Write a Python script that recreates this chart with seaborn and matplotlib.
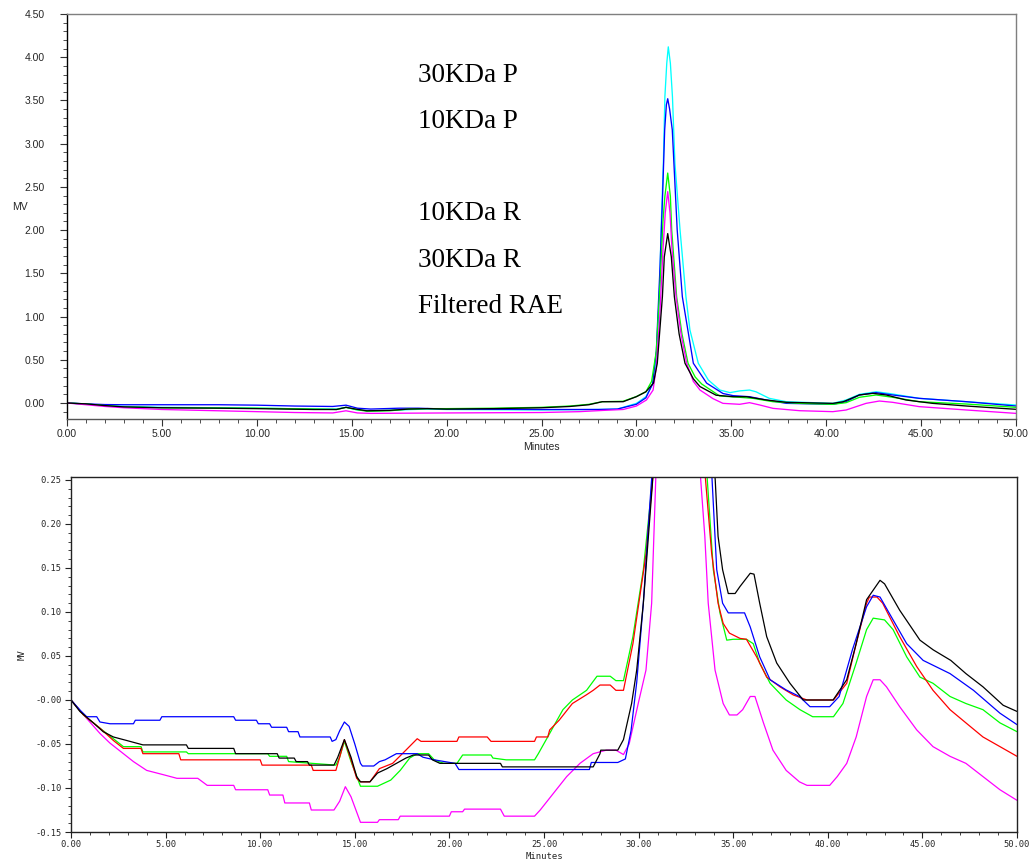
import numpy as np
import pandas as pd
import matplotlib
matplotlib.use("Agg")
import matplotlib.pyplot as plt
import seaborn as sns
from matplotlib.ticker import MultipleLocator, FixedLocator, FixedFormatter

sns.set_style("ticks")
plt.rcParams['font.family'] = ['Liberation Sans', 'DejaVu Sans']

# ---------------- TOP PANEL DATA (full scale) ----------------
top_samples = ["30KDa P", "10KDa P", "10KDa R", "30KDa R", "Filtered RAE"]
top_colors = ["#00FFFF", "#0000FF", "#00FF00", "#FF00FF", "#000000"]

cyan_t = [0, 1, 2, 3, 5, 8, 10, 13, 14.2, 14.7, 15.3, 16, 17.5, 19, 20, 25, 28, 29, 30, 30.5,
          30.88, 31.03, 31.21, 31.3, 31.42, 31.5, 31.6, 31.68, 31.79, 31.9, 32.03, 32.3, 32.61,
          32.82, 33.26, 33.79, 34.4, 34.93, 35.44, 35.96, 36.3, 37.0, 37.9, 40.35, 41.05, 41.75,
          42.63, 43.33, 44.9, 47.4, 50]
cyan_v = [0.0, -0.012, -0.03, -0.04, -0.05, -0.055, -0.06, -0.07, -0.07, -0.05, -0.08, -0.09, -0.08,
          -0.07, -0.075, -0.08, -0.075, -0.07, -0.004, 0.073, 0.23, 0.46, 1.23, 2.0, 2.77, 3.54,
          3.93, 4.12, 3.93, 3.54, 2.77, 2.0, 1.23, 0.845, 0.46, 0.266, 0.15, 0.12, 0.14, 0.15,
          0.13, 0.054, 0.015, -0.004, 0.035, 0.10, 0.13, 0.11, 0.054, 0.015, -0.023]

blue_t = [0, 1, 2, 3, 5, 8, 10, 12, 14, 14.7, 15.3, 16, 17.5, 18.5, 20, 25, 28, 29, 30, 30.5,
          30.85, 31.05, 31.25, 31.38, 31.49, 31.58, 31.65, 31.75, 31.89, 32.15, 32.42, 33.0,
          33.7, 34.56, 35.1, 35.96, 36.84, 37.9, 40.35, 41.05, 41.75, 42.63, 43.5, 44.9, 47.4, 50]
blue_v = [0.0, -0.01, -0.018, -0.02, -0.02, -0.02, -0.025, -0.035, -0.04, -0.025, -0.06, -0.07,
          -0.06, -0.06, -0.07, -0.075, -0.075, -0.07, -0.015, 0.06, 0.22, 0.6, 1.6, 2.4, 3.16,
          3.45, 3.52, 3.4, 3.16, 2.0, 1.23, 0.46, 0.23, 0.11, 0.085, 0.073, 0.035, -0.004, -0.015,
          0.015, 0.093, 0.12, 0.093, 0.054, 0.015, -0.035]

green_t = [0, 1, 2, 3, 5, 8, 10, 13, 14.2, 14.7, 15.2, 15.8, 17, 18, 19, 20, 22.5, 25, 26.5, 27.5,
           28.2, 29.3, 30.0, 30.5, 30.8, 31.05, 31.25, 31.4, 31.5, 31.65, 31.79, 31.86, 32.12,
           32.4, 32.72, 33.1, 33.44, 34.39, 35.44, 36.14, 37.2, 38.6, 40.35, 41.05, 41.75, 42.63,
           43.5, 44.9, 47.4, 50]
green_v = [0.0, -0.012, -0.03, -0.045, -0.055, -0.058, -0.06, -0.07, -0.075, -0.05, -0.075, -0.095,
           -0.09, -0.07, -0.065, -0.065, -0.06, -0.05, -0.035, -0.015, 0.015, 0.02, 0.075, 0.13,
           0.25, 0.6, 1.4, 2.1, 2.39, 2.66, 2.39, 2.0, 1.23, 0.8, 0.46, 0.3, 0.22, 0.081, 0.066,
           0.054, 0.015, -0.004, -0.015, 0.004, 0.066, 0.093, 0.066, 0.015, -0.012, -0.05]

magenta_t = [0, 1, 2, 3, 5, 8, 10, 12, 14, 14.7, 15.3, 16, 20, 25, 27, 28.3, 29.3, 30.0, 30.53,
             30.88, 31.05, 31.23, 31.4, 31.52, 31.65, 31.77, 31.87, 32.09, 32.35, 32.65, 33.0,
             33.35, 34.04, 34.56, 35.44, 35.96, 36.5, 37.2, 38.6, 40.35, 41.05, 42.1, 42.8, 43.5,
             44.9, 47.4, 50]
magenta_v = [0.0, -0.02, -0.04, -0.055, -0.075, -0.09, -0.1, -0.11, -0.115, -0.09, -0.115, -0.12,
             -0.115, -0.11, -0.1, -0.085, -0.075, -0.035, 0.035, 0.15, 0.42, 1.0, 1.77, 2.2,
             2.445, 2.2, 1.8, 1.23, 0.8, 0.46, 0.25, 0.15, 0.05, -0.004, -0.015, 0.004, -0.023,
             -0.062, -0.089, -0.1, -0.081, -0.004, 0.023, 0.008, -0.042, -0.081, -0.12]

black_t = [0, 1, 2, 3, 5, 8, 10, 13, 14.2, 14.7, 15.2, 15.8, 17, 18, 19, 20, 22.5, 25, 26.5, 27.5,
           28.2, 29.3, 30.0, 30.5, 30.9, 31.1, 31.37, 31.47, 31.65, 31.84, 32.0, 32.25,
           32.56, 33.0, 33.35, 34.2, 35.1, 35.8, 36.84, 37.9, 40.35, 40.9, 41.75, 42.46, 43.16,
           44.2, 45.6, 47.4, 50]
black_v = [0.0, -0.01, -0.03, -0.045, -0.055, -0.06, -0.065, -0.075, -0.075, -0.05, -0.07, -0.09,
           -0.085, -0.07, -0.065, -0.07, -0.065, -0.055, -0.04, -0.02, 0.015, 0.015, 0.073, 0.13,
           0.23, 0.46, 1.23, 1.69, 1.96, 1.69, 1.23, 0.8, 0.46, 0.28, 0.19, 0.09, 0.073,
           0.073, 0.035, 0.008, -0.004, 0.015, 0.093, 0.112, 0.093, 0.035, -0.004, -0.035, -0.073]

# ---------------- BOTTOM PANEL DATA (zoomed baseline) ----------------
bot_samples = ["magenta", "green", "red", "blue", "black"]
bot_colors = ["#FF00FF", "#00FF00", "#FF0000", "#0000FF", "#000000"]

b_black_t = [0, 0.47, 1.18, 1.7, 2.24, 2.94, 3.8, 6.1, 6.2, 8.6, 8.7, 10.9, 11.0, 11.8, 11.9, 12.5,
             12.6, 13.9, 14.1, 14.45, 14.8, 15.1, 15.3, 15.8, 16.2, 16.7, 17.2, 17.7, 18.1, 18.9,
             19.1, 19.5, 22.7, 22.8, 27.6, 27.96, 28.0, 28.9, 29.2, 29.63, 29.9, 30.25, 30.78,
             31.2, 31.7, 32.4, 33.2, 33.7, 34.05, 34.2, 34.44, 34.74, 35.1, 35.36, 35.9, 36.1,
             36.4, 36.77, 37.3, 38.0, 38.7, 40.28, 41.0, 41.5, 42.05, 42.76, 43.0, 43.8, 44.87,
             45.57, 46.5, 47.3, 48.2, 49.27, 50]
b_black_v = [0.0, -0.013, -0.026, -0.036, -0.042, -0.046, -0.051, -0.051, -0.055, -0.055, -0.061,
             -0.061, -0.066, -0.066, -0.070, -0.070, -0.074, -0.074, -0.065, -0.045, -0.065,
             -0.087, -0.093, -0.093, -0.083, -0.078, -0.072, -0.066, -0.0625, -0.0625, -0.068,
             -0.072, -0.072, -0.076, -0.076, -0.061, -0.057, -0.057, -0.045, -0.004, 0.034, 0.11,
             0.26, 1.0, 1.96, 1.0, 0.45, 0.35, 0.25, 0.186, 0.148, 0.121, 0.121, 0.129, 0.144,
             0.143, 0.110, 0.072, 0.042, 0.019, 0.0, 0.0, 0.023, 0.064, 0.114, 0.136, 0.132,
             0.102, 0.068, 0.057, 0.045, 0.030, 0.015, -0.006, -0.013]

b_blue_t = [0, 0.5, 0.83, 1.36, 1.53, 2.06, 3.3, 3.4, 4.7, 4.8, 8.6, 8.7, 9.8, 9.9, 10.5, 10.6,
            11.4, 11.5, 12.0, 12.1, 13.7, 13.8, 14.0, 14.2, 14.45, 14.7, 15.0, 15.3, 15.4, 16.0,
            16.3, 16.6, 17.2, 18.3, 18.6, 19.2, 20.3, 20.5, 27.4, 27.5, 28.9, 29.3, 29.6, 29.9,
            30.25, 30.6, 30.75, 31.2, 31.7, 32.3, 33.0, 33.5, 33.86, 34.13, 34.44, 34.74, 35.6,
            35.9, 36.4, 36.95, 37.8, 38.5, 39.06, 40.1, 40.6, 41.3, 42.05, 42.4, 42.76, 43.45,
            44.17, 45.04, 46.46, 47.7, 49.1, 50]
b_blue_v = [0.0, -0.012, -0.019, -0.019, -0.025, -0.027, -0.027, -0.023, -0.023, -0.019, -0.019,
            -0.023, -0.023, -0.027, -0.027, -0.031, -0.031, -0.036, -0.036, -0.042, -0.042,
            -0.047, -0.045, -0.035, -0.025, -0.030, -0.050, -0.072, -0.075, -0.075, -0.070,
            -0.068, -0.061, -0.061, -0.065, -0.068, -0.072, -0.079, -0.079, -0.071, -0.071,
            -0.067, -0.035, 0.02, 0.110, 0.224, 0.27, 1.2, 3.52, 1.8, 0.6, 0.35, 0.26, 0.148,
            0.11, 0.099, 0.099, 0.083, 0.049, 0.023, 0.0114, 0.004, -0.0076, -0.0076, 0.004,
            0.057, 0.106, 0.119, 0.117, 0.091, 0.064, 0.045, 0.030, 0.011, -0.015, -0.028]

b_red_t = [0, 0.66, 1.53, 2.24, 2.77, 3.7, 3.8, 5.7, 5.8, 10.0, 10.1, 12.7, 12.8, 14.0, 14.2,
           14.45, 14.8, 15.1, 15.3, 15.8, 16.3, 17.0, 17.7, 18.3, 18.5, 20.4, 20.5, 22.0, 22.2,
           24.5, 24.6, 25.2, 25.3, 25.8, 26.5, 27.25, 27.6, 27.96, 28.5, 28.8, 29.2, 29.7, 30.4,
           30.75, 31.2, 31.7, 32.4, 33.0, 33.5, 33.86, 34.2, 34.47, 34.8, 35.36, 35.7, 36.24,
           36.77, 37.47, 38.18, 38.9, 40.3, 41.0, 41.5, 42.05, 42.2, 42.6, 42.9, 43.8, 44.7,
           45.56, 46.46, 47.3, 48.2, 49.1, 50]
b_red_v = [0.0, -0.017, -0.032, -0.046, -0.055, -0.055, -0.061, -0.061, -0.068, -0.068, -0.074,
           -0.074, -0.080, -0.080, -0.065, -0.045, -0.068, -0.089, -0.093, -0.093, -0.078,
           -0.072, -0.057, -0.044, -0.047, -0.047, -0.042, -0.042, -0.047, -0.047, -0.042,
           -0.042, -0.034, -0.023, -0.004, 0.006, 0.011, 0.017, 0.017, 0.011, 0.011, 0.064,
           0.167, 0.254, 1.0, 2.4, 1.0, 0.45, 0.26, 0.167, 0.110, 0.087, 0.076, 0.070, 0.069,
           0.049, 0.026, 0.015, 0.0057, 0.0, 0.0, 0.019, 0.064, 0.110, 0.117, 0.117, 0.110,
           0.072, 0.038, 0.011, -0.011, -0.026, -0.042, -0.053, -0.064]

b_green_t = [0, 0.66, 1.53, 2.24, 2.77, 3.7, 3.8, 6.1, 6.2, 10.4, 10.5, 11.4, 11.5, 14.0, 14.2,
             14.45, 14.8, 15.3, 16.2, 16.9, 17.4, 17.9, 18.3, 18.9, 19.2, 19.7, 20.4, 20.7, 22.2,
             22.3, 23.0, 24.5, 24.7, 25.3, 26.0, 26.5, 27.25, 27.8, 28.5, 28.8, 29.2, 29.7, 30.25,
             30.7, 31.2, 31.7, 32.4, 33.0, 33.6, 33.95, 34.3, 34.66, 35.0, 35.7, 36.06, 36.4,
             36.95, 37.8, 38.53, 39.2, 40.3, 40.8, 41.5, 42.05, 42.4, 43.0, 43.45, 44.17, 44.87,
             45.56, 46.46, 47.3, 48.2, 49.1, 50]
b_green_v = [0.0, -0.017, -0.032, -0.044, -0.053, -0.053, -0.059, -0.059, -0.061, -0.061, -0.064,
             -0.064, -0.070, -0.074, -0.065, -0.047, -0.070, -0.098, -0.098, -0.091, -0.080,
             -0.066, -0.061, -0.061, -0.068, -0.072, -0.072, -0.0625, -0.0625, -0.066, -0.068,
             -0.068, -0.061, -0.038, -0.011, 0.0, 0.011, 0.027, 0.027, 0.022, 0.022, 0.072,
             0.148, 0.242, 1.2, 2.66, 1.1, 0.5, 0.26, 0.148, 0.099, 0.068, 0.069, 0.069, 0.064,
             0.042, 0.019, 0.0, -0.011, -0.019, -0.019, -0.004, 0.042, 0.080, 0.093, 0.091,
             0.080, 0.049, 0.026, 0.019, 0.004, -0.004, -0.011, -0.026, -0.036]

b_magenta_t = [0, 0.83, 1.53, 2.06, 2.77, 3.3, 4.0, 4.9, 5.6, 6.7, 7.2, 8.6, 8.7, 10.4, 10.5,
               11.2, 11.3, 12.6, 12.7, 13.9, 14.2, 14.5, 14.8, 15.3, 16.2, 16.3, 17.3, 17.4, 20.0,
               20.1, 20.7, 20.8, 22.7, 22.9, 24.5, 24.8, 25.5, 26.2, 26.9, 27.6, 28.3, 28.8, 29.2,
               29.5, 29.98, 30.39, 30.69, 30.92, 31.4, 31.7, 32.3, 32.8, 33.25, 33.5, 33.68, 34.04,
               34.47, 34.8, 35.2, 35.5, 35.9, 36.15, 36.6, 37.1, 37.8, 38.5, 38.9, 40.1, 40.5,
               41.0, 41.5, 42.05, 42.4, 42.76, 43.1, 43.8, 44.7, 45.56, 46.46, 47.3, 48.2, 49.1,
               50]
b_magenta_v = [0.0, -0.021, -0.038, -0.049, -0.061, -0.070, -0.080, -0.085, -0.089, -0.089,
               -0.097, -0.097, -0.102, -0.102, -0.108, -0.108, -0.117, -0.117, -0.125, -0.125,
               -0.115, -0.0985, -0.110, -0.139, -0.139, -0.136, -0.136, -0.132, -0.132, -0.127,
               -0.127, -0.124, -0.124, -0.132, -0.132, -0.125, -0.106, -0.087, -0.072, -0.061,
               -0.057, -0.057, -0.062, -0.050, -0.004, 0.034, 0.11, 0.26, 1.2, 2.45, 1.2, 0.5,
               0.26, 0.186, 0.11, 0.034, -0.004, -0.017, -0.017, -0.011, 0.004, 0.004, -0.026,
               -0.057, -0.080, -0.093, -0.097, -0.097, -0.087, -0.072, -0.042, 0.004, 0.023,
               0.023, 0.015, -0.0076, -0.034, -0.053, -0.064, -0.072, -0.087, -0.102, -0.114]

# ---------------- ticks / labels ----------------
x_ticks = [0, 5, 10, 15, 20, 25, 30, 35, 40, 45, 50]
x_ticklabels = ["0.00", "5.00", "10.00", "15.00", "20.00", "25.00", "30.00", "35.00", "40.00",
                "45.00", "50.00"]
top_yticks = [0, 0.5, 1.0, 1.5, 2.0, 2.5, 3.0, 3.5, 4.0, 4.5]
top_yticklabels = ["0.00", "0.50", "1.00", "1.50", "2.00", "2.50", "3.00", "3.50", "4.00", "4.50"]
bot_yticks = [-0.15, -0.10, -0.05, 0.0, 0.05, 0.10, 0.15, 0.20, 0.25]
bot_yticklabels = ["-0.15", "-0.10", "-0.05", "-0.00", "0.05", "0.10", "0.15", "0.20", "0.25"]

label_texts = ["30KDa P", "10KDa P", "10KDa R", "30KDa R", "Filtered RAE"]
label_y = [3.717, 3.181, 2.117, 1.573, 1.041]

# ---------------- build frames ----------------
top_df = pd.concat([
    pd.DataFrame({"time": t, "mv": v, "sample": s})
    for s, t, v in zip(top_samples,
                       [cyan_t, blue_t, green_t, magenta_t, black_t],
                       [cyan_v, blue_v, green_v, magenta_v, black_v])
], ignore_index=True)

bot_df = pd.concat([
    pd.DataFrame({"time": t, "mv": v, "sample": s})
    for s, t, v in zip(bot_samples,
                       [b_magenta_t, b_green_t, b_red_t, b_blue_t, b_black_t],
                       [b_magenta_v, b_green_v, b_red_v, b_blue_v, b_black_v])
], ignore_index=True)

W, H = 1033, 863
fig = plt.figure(figsize=(W / 100, H / 100), dpi=100)
ax1 = fig.add_axes([67 / W, 1 - 419 / H, (1016 - 67) / W, (419 - 14) / H])
ax2 = fig.add_axes([71 / W, 1 - 832 / H, (1017 - 71) / W, (832 - 477) / H])

sns.lineplot(data=top_df, x="time", y="mv", hue="sample", hue_order=top_samples,
             palette=dict(zip(top_samples, top_colors)), estimator=None, sort=False,
             legend=False, linewidth=0.95, ax=ax1)
sns.lineplot(data=bot_df, x="time", y="mv", hue="sample", hue_order=bot_samples,
             palette=dict(zip(bot_samples, bot_colors)), estimator=None, sort=False,
             legend=False, linewidth=0.9, ax=ax2)

# ---- top axes styling ----
ax1.set_xlim(0, 50)
ax1.set_ylim(-0.185, 4.5)
ax1.xaxis.set_major_locator(FixedLocator(x_ticks))
ax1.xaxis.set_major_formatter(FixedFormatter(x_ticklabels))
ax1.xaxis.set_minor_locator(MultipleLocator(1))
ax1.yaxis.set_major_locator(FixedLocator(top_yticks))
ax1.yaxis.set_major_formatter(FixedFormatter(top_yticklabels))
ax1.yaxis.set_minor_locator(MultipleLocator(0.1))
ax1.tick_params(axis="both", which="major", direction="out", length=5, width=0.8,
                labelsize=7.5, color="#333333")
ax1.tick_params(axis="y", which="major", pad=11)
ax1.tick_params(axis="x", which="major", pad=2)
ax1.tick_params(axis="both", which="minor", direction="out", length=3, width=0.6, color="#333333")
ax1.set_xlabel("Minutes", fontsize=7.5, labelpad=2)
ax1.set_ylabel("MV", fontsize=7.5, rotation=0, labelpad=0)
ax1.yaxis.set_label_coords(-0.05, 0.51)
for side in ["top", "right"]:
    ax1.spines[side].set_visible(True)
    ax1.spines[side].set_color("#7f7f7f")
    ax1.spines[side].set_linewidth(1.0)
ax1.spines["left"].set_color("#000000")
ax1.spines["bottom"].set_color("#555555")
ax1.spines["left"].set_linewidth(1.0)
ax1.spines["bottom"].set_linewidth(1.0)

for txt, yv in zip(label_texts, label_y):
    ax1.text(18.5, yv, txt, fontsize=19.5, family="Liberation Serif", color="black",
             ha="left", va="baseline")

# ---- bottom axes styling ----
mono = "DejaVu Sans Mono"
ax2.set_xlim(0, 50)
ax2.set_ylim(-0.15, 0.2534)
ax2.xaxis.set_major_locator(FixedLocator(x_ticks))
ax2.xaxis.set_major_formatter(FixedFormatter(x_ticklabels))
ax2.xaxis.set_minor_locator(MultipleLocator(1))
ax2.yaxis.set_major_locator(FixedLocator(bot_yticks))
ax2.yaxis.set_major_formatter(FixedFormatter(bot_yticklabels))
ax2.yaxis.set_minor_locator(MultipleLocator(0.01))
ax2.tick_params(axis="both", which="major", direction="out", length=4, width=0.8,
                labelsize=6.3, color="#222222")
ax2.tick_params(axis="both", which="minor", direction="out", length=2, width=0.6, color="#222222")
ax2.tick_params(axis="y", which="major", pad=3)
ax2.tick_params(axis="x", which="major", pad=2)
for lab in ax2.get_xticklabels() + ax2.get_yticklabels():
    lab.set_family(mono)
ax2.set_xlabel("Minutes", fontsize=6.5, family=mono, labelpad=2)
ax2.set_ylabel("MV", fontsize=6.5, family=mono, labelpad=6)
for side in ["top", "right", "left", "bottom"]:
    ax2.spines[side].set_visible(True)
    ax2.spines[side].set_color("#222222")
    ax2.spines[side].set_linewidth(1.0)

fig.savefig("out.png", dpi=100, facecolor="white")
